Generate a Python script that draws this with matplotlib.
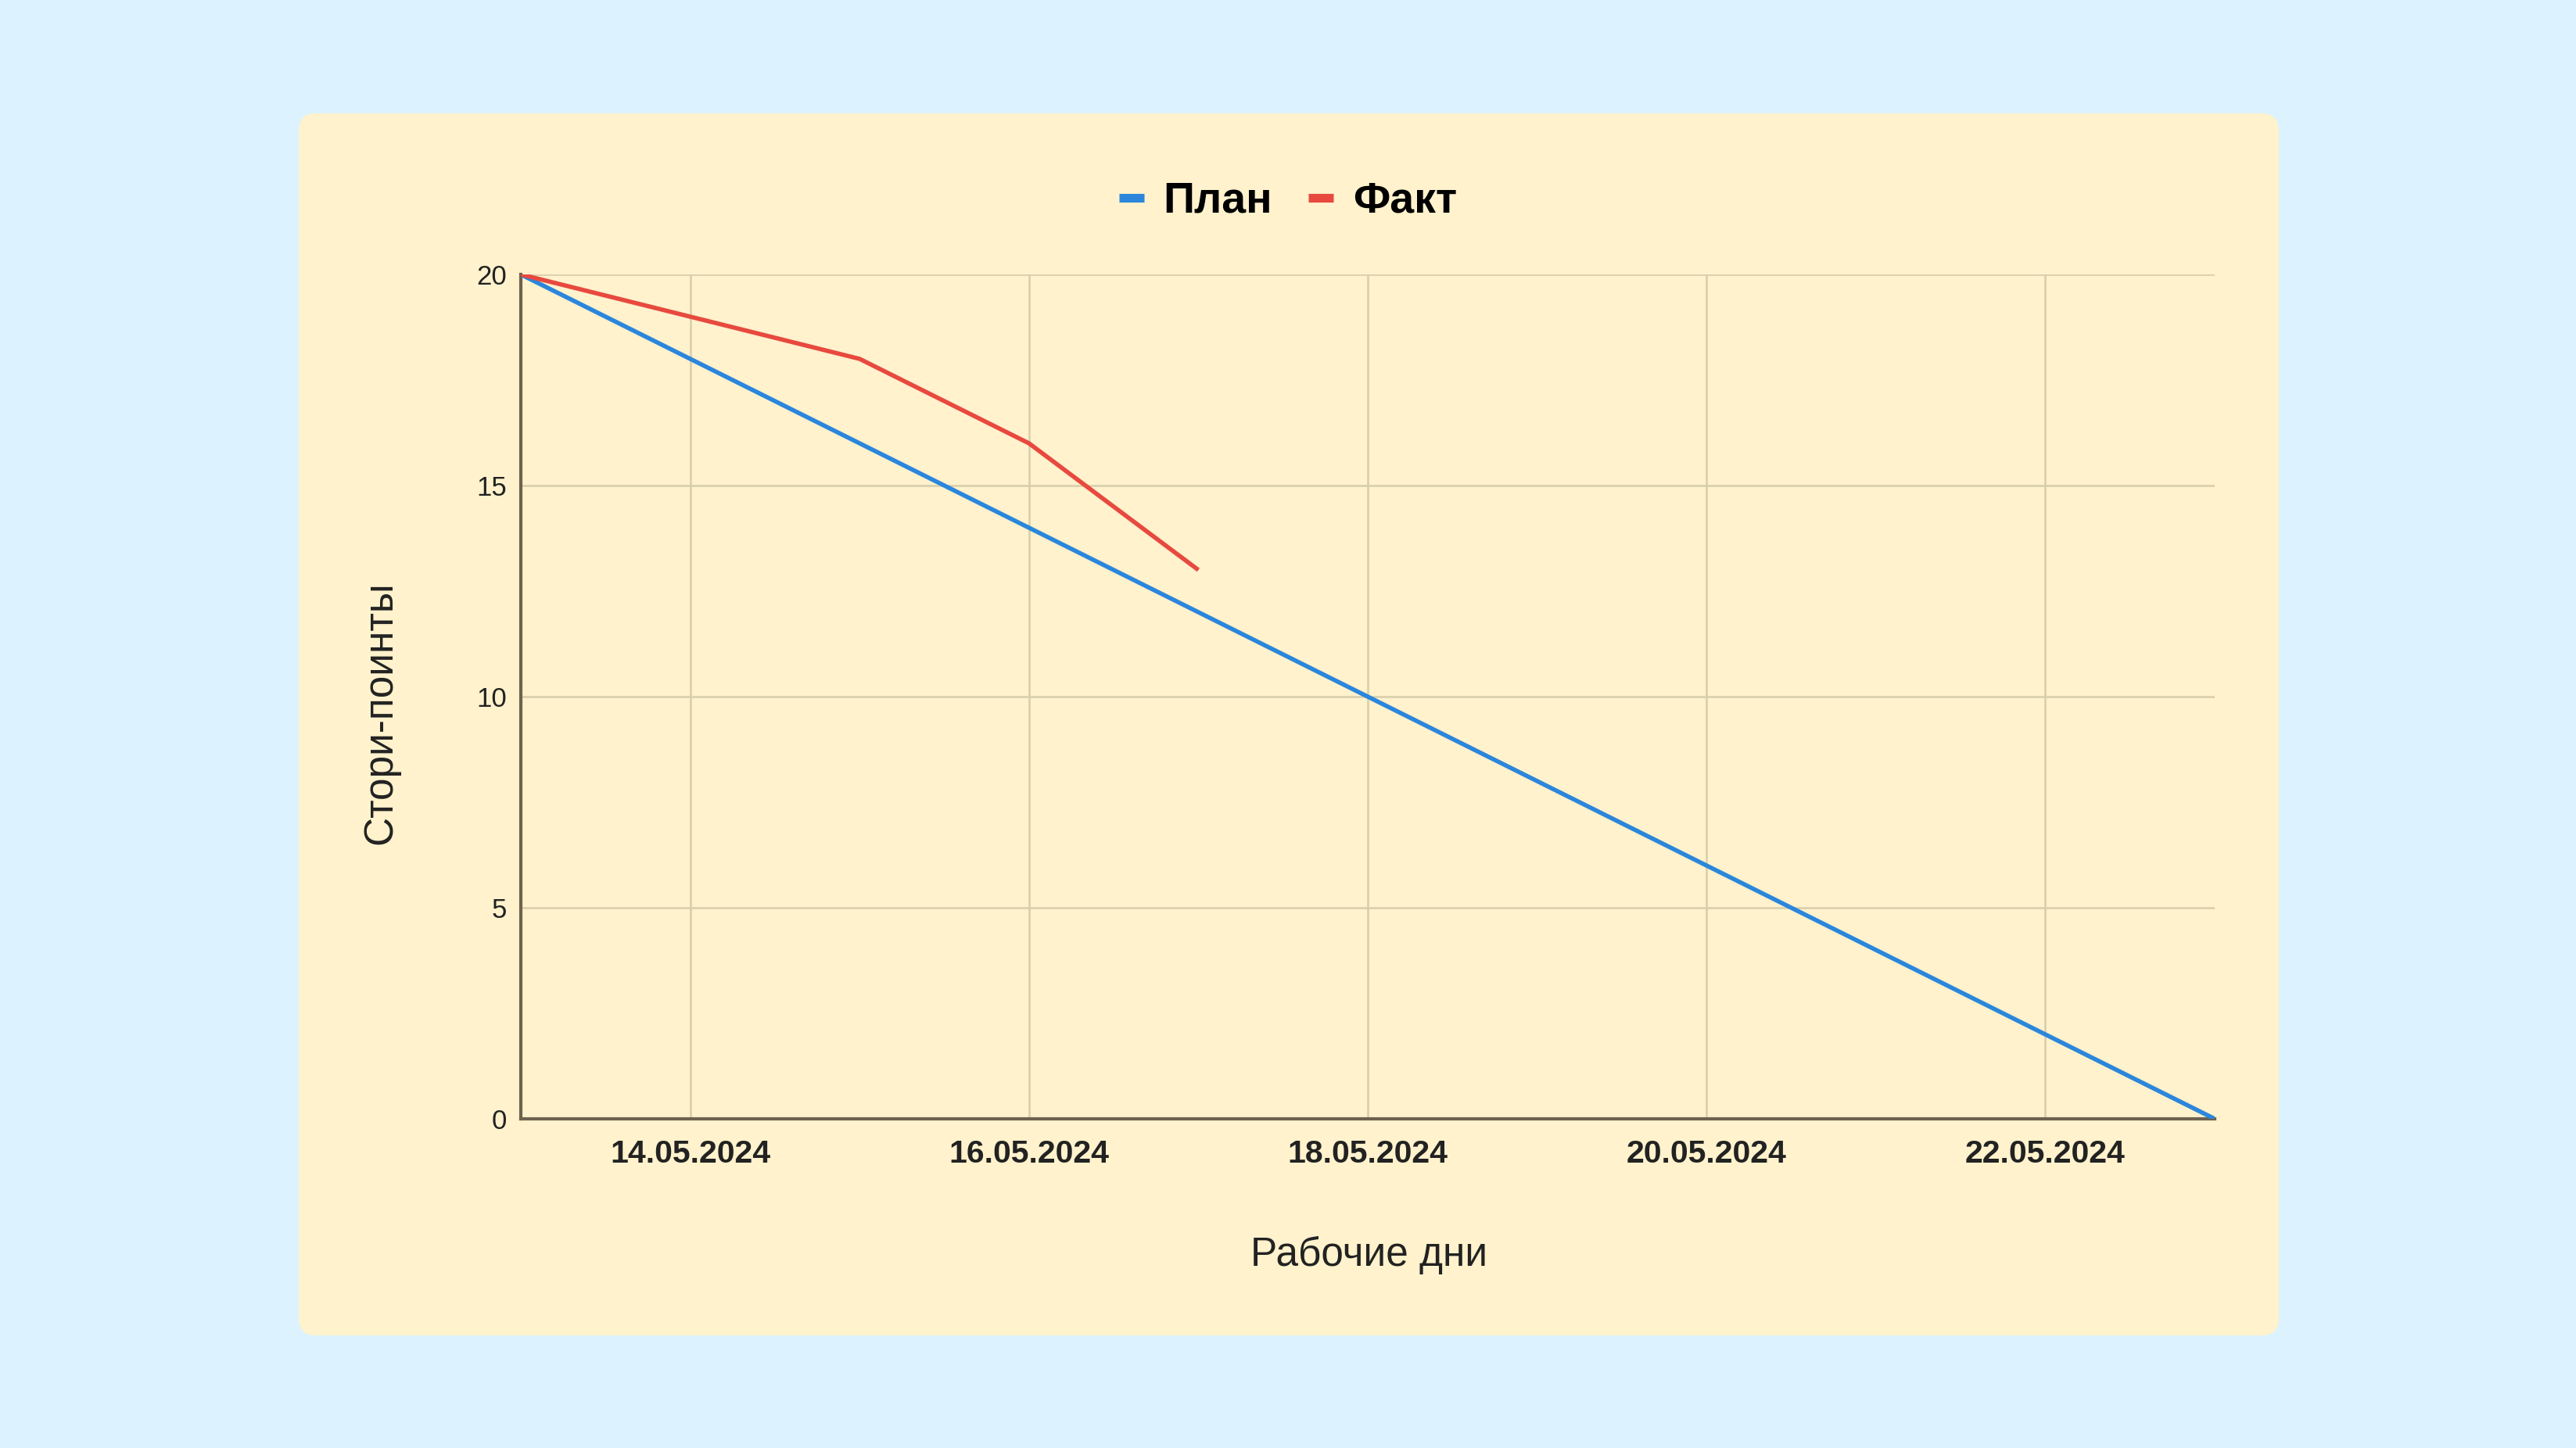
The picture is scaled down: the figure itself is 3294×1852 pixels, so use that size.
import matplotlib
matplotlib.use("Agg")
import matplotlib.pyplot as plt
import matplotlib.dates as mdates
from matplotlib.patches import FancyBboxPatch
from datetime import datetime

plt.rcParams['font.family'] = ['Liberation Sans', 'DejaVu Sans']

# data
days = ['13.05.2024', '14.05.2024', '15.05.2024', '16.05.2024', '17.05.2024', '18.05.2024',
        '19.05.2024', '20.05.2024', '21.05.2024', '22.05.2024', '23.05.2024']
plan = [20, 18, 16, 14, 12, 10, 8, 6, 4, 2, 0]
fact = [20, 19, 18, 16, 13]
tick_days = ['14.05.2024', '16.05.2024', '18.05.2024', '20.05.2024', '22.05.2024']
y_ticks = [0, 5, 10, 15, 20]

to_date = lambda s: datetime.strptime(s, '%d.%m.%Y')
x_plan = [to_date(d) for d in days]
x_fact = x_plan[:len(fact)]

W, H, DPI = 3294, 1852, 100
fig = plt.figure(figsize=(W / DPI, H / DPI), dpi=DPI, facecolor='#dcf3ff')

# cream card behind the chart
r = 22 / W
card = FancyBboxPatch((382 / W, 1 - 1708 / H), (2914 - 382) / W, (1708 - 145) / H,
                      boxstyle='round,pad=0,rounding_size=%f' % r,
                      mutation_aspect=W / H, transform=fig.transFigure,
                      facecolor='#fff2cc', edgecolor='none', zorder=-5)
fig.patches.append(card)

ax = fig.add_axes([666 / W, 1 - 1431 / H, (2832 - 666) / W, (1431 - 351) / H])
ax.set_facecolor('none')
ax.set_zorder(2)

ax.plot(x_plan, plan, color='#2b86dc', lw=4, label='План', zorder=3, solid_capstyle='butt')
ax.plot(x_fact, fact, color='#e8493f', lw=4, label='Факт', zorder=4, solid_capstyle='butt')

ax.set_xlim(x_plan[0], x_plan[-1])
ax.set_ylim(0, 20)
ax.set_yticks(y_ticks)
ax.set_xticks([to_date(d) for d in tick_days])
ax.xaxis.set_major_formatter(mdates.DateFormatter('%d.%m.%Y'))

ax.grid(True, color='#d8cdab', lw=1.8, zorder=1)
ax.set_axisbelow(True)
for s in ['top', 'right']:
    ax.spines[s].set_visible(False)
for s in ['left', 'bottom']:
    ax.spines[s].set_color('#6e6250')
    ax.spines[s].set_linewidth(3)
    ax.spines[s].set_zorder(2)

ax.tick_params(axis='y', length=0, pad=13, labelsize=25, labelcolor='#222222')
ax.tick_params(axis='x', length=0, pad=19, labelsize=29.5, labelcolor='#222222')
for lab in ax.get_xticklabels():
    lab.set_fontweight('bold')

fig.text(0.5313, 1 - 1605 / H, 'Рабочие дни', ha='center', va='center', fontsize=37, color='#222222')
fig.text(487 / W, 1 - 912 / H, 'Стори-поинты', ha='center', va='center', rotation=90,
         fontsize=37, color='#222222')

leg = fig.legend(loc='center', bbox_to_anchor=(0.5, 1 - 258 / H), ncol=2, frameon=False,
                 prop={'weight': 'bold', 'size': 40}, handlelength=0.57, handletextpad=0.45,
                 columnspacing=0.83)
for h in leg.get_lines():
    h.set_linewidth(8)

fig.savefig('out.png', dpi=DPI, facecolor=fig.get_facecolor())
